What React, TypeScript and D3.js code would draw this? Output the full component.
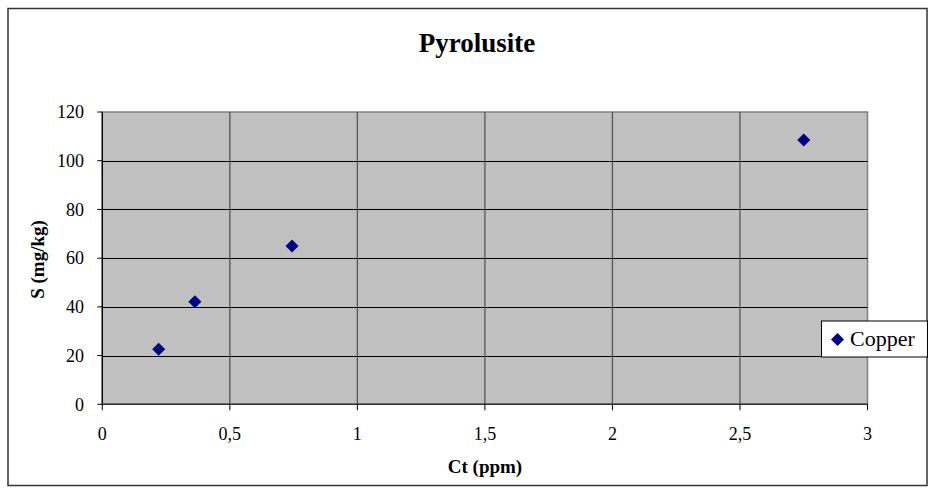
import React from "react";
import * as d3 from "d3";

const seriesName = "Copper";
const ctValues = [0.221, 0.363, 0.744, 2.75];
const sValues = [22.6, 42.1, 65.0, 108.5];
const xTicks = [0, 0.5, 1, 1.5, 2, 2.5, 3];
const yTicks = [0, 20, 40, 60, 80, 100, 120];
const titleText = "Pyrolusite";
const xLabel = "Ct (ppm)";
const yLabel = "S (mg/kg)";

export default function App() {
  const W = 935, H = 493;
  const left = 102.3, right = 867.5, top = 112, bottom = 404.3;
  const x = d3.scaleLinear().domain([0, 3]).range([left, right]);
  const y = d3.scaleLinear().domain([0, 120]).range([bottom, top]);
  const fmt = (v: number) => String(v).replace(".", ",");
  const font = "'Liberation Serif', 'DejaVu Serif', serif";
  const diamond = (cx: number, cy: number, r: number) =>
    `M${cx},${cy - r}L${cx + r},${cy}L${cx},${cy + r}L${cx - r},${cy}Z`;
  return (
    <svg width={W} height={H} style={{ position: "absolute", left: 0, top: 0, fontFamily: font }}>
      <rect x={0} y={0} width={W} height={H} fill="#fff" />
      <rect x={8} y={8.5} width={919} height={477} fill="#fff" stroke="#333" strokeWidth={1.5} />
      <text x={477} y={52} textAnchor="middle" fontSize={27} fontWeight="bold">{titleText}</text>
      <rect x={left} y={top} width={right - left} height={bottom - top} fill="#c0c0c0" stroke="#808080" strokeWidth={1.5} />
      {yTicks.filter(t => t !== 0 && t !== 120).map(t => (
        <line key={"hy" + t} x1={left} x2={right} y1={Math.round(y(t)) + 0.5} y2={Math.round(y(t)) + 0.5} stroke="#000" strokeWidth={1} />
      ))}
      {xTicks.filter(t => t !== 0 && t !== 3).map(t => (
        <line key={"vx" + t} x1={x(t)} x2={x(t)} y1={top} y2={bottom} stroke="#555" strokeWidth={1.3} />
      ))}
      <line x1={left} x2={left} y1={top} y2={bottom} stroke="#000" strokeWidth={1.3} />
      <line x1={left} x2={right} y1={bottom} y2={bottom} stroke="#333" strokeWidth={1.5} />
      {yTicks.map(t => (
        <g key={"yt" + t}>
          <line x1={left - 5} x2={left} y1={y(t)} y2={y(t)} stroke="#000" />
          <text x={84} y={y(t) + 6.3} textAnchor="end" fontSize={18}>{fmt(t)}</text>
        </g>
      ))}
      {xTicks.map(t => (
        <g key={"xt" + t}>
          <line x1={x(t)} x2={x(t)} y1={bottom} y2={bottom + 6} stroke="#000" />
          <text x={x(t)} y={440} textAnchor="middle" fontSize={18}>{fmt(t)}</text>
        </g>
      ))}
      <text x={485} y={473} textAnchor="middle" fontSize={19} fontWeight="bold">{xLabel}</text>
      <text transform={`translate(44,259.5) rotate(-90)`} textAnchor="middle" fontSize={19} fontWeight="bold">{yLabel}</text>
      {ctValues.map((c, i) => (
        <path key={"p" + i} d={diamond(x(c), y(sValues[i]), 6.5)} fill="#000080" />
      ))}
      <rect x={821.5} y={321} width={106} height={36} fill="#fff" stroke="#000" strokeWidth={1} />
      <path d={diamond(837.5, 339.5, 6.5)} fill="#000080" />
      <text x={850} y={346} fontSize={22}>{seriesName}</text>
    </svg>
  );
}
